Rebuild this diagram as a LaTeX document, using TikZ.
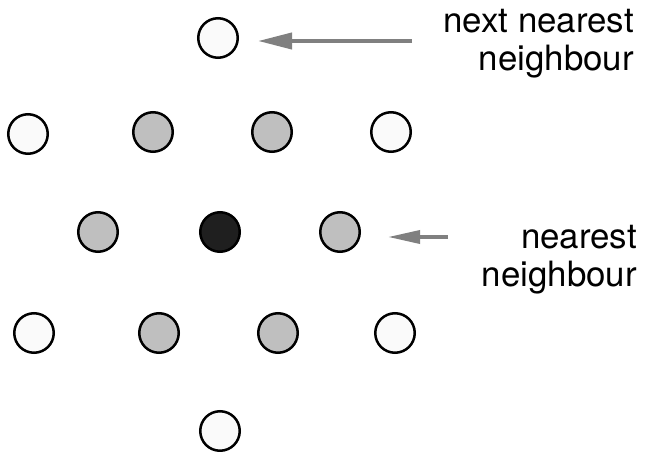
\documentclass[tikz,border=0pt]{standalone}
\usepackage{fontspec}
\setmainfont{TeX Gyre Heros}
\usetikzlibrary{arrows.meta, positioning}
\begin{document}
\begin{tikzpicture}[x=1bp, y=-1bp]
    \tikzset{
        site/.style = {circle, draw=black, line width=2.5bp, minimum size=39.5bp, inner sep=0pt},
        farsite/.style = {site, fill=black!2},
        nearsite/.style = {site, fill=black!25},
        midsite/.style = {site, fill=black!88},
        pointer/.style = {draw=black!50, line width=4bp, -{Triangle[length=34bp, width=16bp]}},
        note/.style = {align=right, inner sep=0pt, font=\fontsize{35}{39}\selectfont},
    }
    \useasboundingbox (0,0) rectangle (646,452);

    % central site
    \node[midsite](mid) at (220,232){};

    % nearest neighbours
    \node[nearsite](n1)[left = 80bp of mid]{};
    \node[nearsite](n2)[right = 78bp of mid]{};
    \node[nearsite](n3) at (153,132){};
    \node[nearsite](n4) at (272,132){};
    \node[nearsite](n5) at (159,333){};
    \node[nearsite](n6) at (278,333){};

    % next nearest neighbours
    \node[farsite](f1) at (218,38){};
    \node[farsite](f2) at (28,134){};
    \node[farsite](f3) at (391,132){};
    \node[farsite](f4) at (34,333){};
    \node[farsite](f5) at (395,333){};
    \node[farsite](f6) at (220,431){};

    % labels
    \node[note, anchor=base east](farnote) at (634,71){next nearest\\neighbour};
    \node[note, anchor=base east](nearnote) at (637,287){nearest\\neighbour};

    \coordinate (fartail) at (412,41);
    \coordinate (neartail) at (448,237);
    \path [pointer, shorten >=19bp] (fartail) -- (f1.east |- fartail);
    \path [pointer, line width=3.5bp, -{Triangle[length=32bp, width=13bp]}, shorten >=27bp] (neartail) -- (n2.east |- neartail);

\end{tikzpicture}
\end{document}
